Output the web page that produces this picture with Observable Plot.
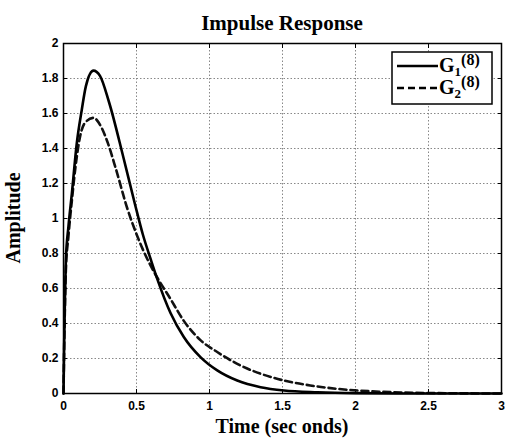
<!DOCTYPE html>
<html><head><meta charset="utf-8">
<script src="https://cdn.jsdelivr.net/npm/d3@7"></script>
<script src="https://cdn.jsdelivr.net/npm/@observablehq/plot@0.6"></script>
<style>body{margin:0;background:#fff} svg{display:block;background:#fff}</style>
</head><body><div id="chart"></div>
<script>
// G1(8) impulse response (solid)
const g1Time = [0, 0.005, 0.01, 0.016, 0.034, 0.057, 0.091, 0.125, 0.153, 0.205, 0.25, 0.31, 0.41, 0.49, 0.543, 0.6, 0.642, 0.733, 0.824, 0.938, 1.053, 1.19, 1.35, 1.51, 1.74, 2.0, 2.4, 3];
const g1Amp  = [0, 0.3, 0.55, 0.76, 0.955, 1.14, 1.43, 1.62, 1.755, 1.845, 1.815, 1.67, 1.35, 1.08, 0.91, 0.76, 0.655, 0.46, 0.323, 0.208, 0.132, 0.074, 0.036, 0.017, 0.007, 0.002, 0, 0];
// G2(8) impulse response (dashed)
const g2Time = [0, 0.005, 0.01, 0.016, 0.034, 0.057, 0.08, 0.114, 0.15, 0.205, 0.26, 0.3, 0.36, 0.436, 0.505, 0.573, 0.63, 0.733, 0.824, 0.938, 1.053, 1.212, 1.35, 1.51, 1.69, 1.87, 2.1, 2.4, 2.7, 3];
const g2Amp  = [0, 0.28, 0.5, 0.7, 0.9, 1.1, 1.28, 1.47, 1.55, 1.575, 1.52, 1.44, 1.28, 1.06, 0.9, 0.77, 0.68, 0.54, 0.415, 0.305, 0.237, 0.16, 0.113, 0.074, 0.046, 0.027, 0.013, 0.004, 0.001, 0];

const xTicks = [0, 0.5, 1, 1.5, 2, 2.5, 3];
const xTickLabels = ["0", "0.5", "1", "1.5", "2", "2.5", "3"];
const yTicks = [0, 0.2, 0.4, 0.6, 0.8, 1, 1.2, 1.4, 1.6, 1.8, 2];
const yTickLabels = ["0", "0.2", "0.4", "0.6", "0.8", "1", "1.2", "1.4", "1.6", "1.8", "2"];

const titleText = "Impulse Response";
const xLabelText = "Time (sec onds)";
const yLabelText = "Amplitude";
const seriesNames = ["G1", "G2"];

const g1 = g1Time.map((t, i) => ({t, a: g1Amp[i]}));
const g2 = g2Time.map((t, i) => ({t, a: g2Amp[i]}));

const W = 505, H = 438;
const mL = 63, mR = 4, mT = 43, mB = 45;
const serif = "'Liberation Serif', 'Times New Roman', serif";
const sans = "'Liberation Sans', Arial, sans-serif";
const gridStyle = {stroke: "#888", strokeOpacity: 1, strokeWidth: 1, strokeDasharray: "1.5,2"};

const chart = Plot.plot({
  width: W, height: H,
  marginLeft: mL, marginRight: mR, marginTop: mT, marginBottom: mB,
  style: {fontFamily: sans, fontSize: "12px", fontWeight: "bold", background: "#fff", color: "#000"},
  x: {domain: [0, 3]},
  y: {domain: [0, 2]},
  marks: [
    Plot.gridX(xTicks, gridStyle),
    Plot.gridY(yTicks, gridStyle),
    Plot.axisX(xTicks, {anchor: "bottom", tickSize: 0, tickPadding: 8, tickFormat: d => xTickLabels[xTicks.indexOf(d)], label: null, fontSize: 12, fontWeight: "bold"}),
    Plot.axisY(yTicks, {anchor: "left", tickSize: 0, tickPadding: 5, tickFormat: d => yTickLabels[yTicks.indexOf(d)], label: null, fontSize: 12, fontWeight: "bold"}),
    Plot.axisX(xTicks, {anchor: "bottom", tickSize: -4, tickFormat: () => "", label: null, strokeWidth: 1}),
    Plot.axisX(xTicks, {anchor: "top", tickSize: -4, tickFormat: () => "", label: null, strokeWidth: 1}),
    Plot.axisY(yTicks, {anchor: "left", tickSize: -4, tickFormat: () => "", label: null, strokeWidth: 1}),
    Plot.axisY(yTicks, {anchor: "right", tickSize: -4, tickFormat: () => "", label: null, strokeWidth: 1}),
    Plot.line(g2, {x: "t", y: "a", stroke: "#111", strokeWidth: 2.6, strokeDasharray: "7,4", curve: "monotone-x"}),
    Plot.line(g1, {x: "t", y: "a", stroke: "#000", strokeWidth: 2.6, curve: "monotone-x"}),
    Plot.frame({stroke: "#000", strokeWidth: 1.5})
  ]
});

const svg = d3.select(chart);
// title
svg.append("text").attr("x", mL + (W - mL - mR) / 2).attr("y", 30)
  .attr("text-anchor", "middle").attr("font-family", serif).attr("font-weight", "bold")
  .attr("font-size", 21).attr("fill", "#000").text(titleText);
// x label
svg.append("text").attr("x", mL + (W - mL - mR) / 2).attr("y", 433)
  .attr("text-anchor", "middle").attr("font-family", serif).attr("font-weight", "bold")
  .attr("font-size", 20).attr("fill", "#000").text(xLabelText);
// y label
svg.append("text").attr("transform", `translate(20,${mT + (H - mT - mB) / 2}) rotate(-90)`)
  .attr("text-anchor", "middle").attr("font-family", serif).attr("font-weight", "bold")
  .attr("font-size", 20).attr("fill", "#000").text(yLabelText);

// legend
const lg = svg.append("g").attr("text-anchor", "start");
lg.append("rect").attr("x", 392).attr("y", 52).attr("width", 100).attr("height", 52)
  .attr("fill", "#fff").attr("stroke", "#000").attr("stroke-width", 1.5);
const rows = [{y: 66, dash: null, sub: "1"}, {y: 88, dash: "7,4", sub: "2"}];
rows.forEach((r, i) => {
  lg.append("line").attr("x1", 397).attr("x2", 438).attr("y1", r.y).attr("y2", r.y)
    .attr("stroke", "#000").attr("stroke-width", 2.6).attr("stroke-dasharray", r.dash);
  const t = lg.append("text").attr("x", 439).attr("y", r.y + 6).attr("font-family", serif)
    .attr("text-anchor", "start")
    .attr("font-weight", "bold").attr("fill", "#000").attr("font-size", 20);
  t.append("tspan").text(seriesNames[i].charAt(0));
  t.append("tspan").attr("font-size", 13).attr("dy", 4).text(r.sub);
  t.append("tspan").attr("font-size", 16).attr("dy", -11).text("(8)");
});

document.getElementById("chart").appendChild(chart);
</script>
</body></html>
